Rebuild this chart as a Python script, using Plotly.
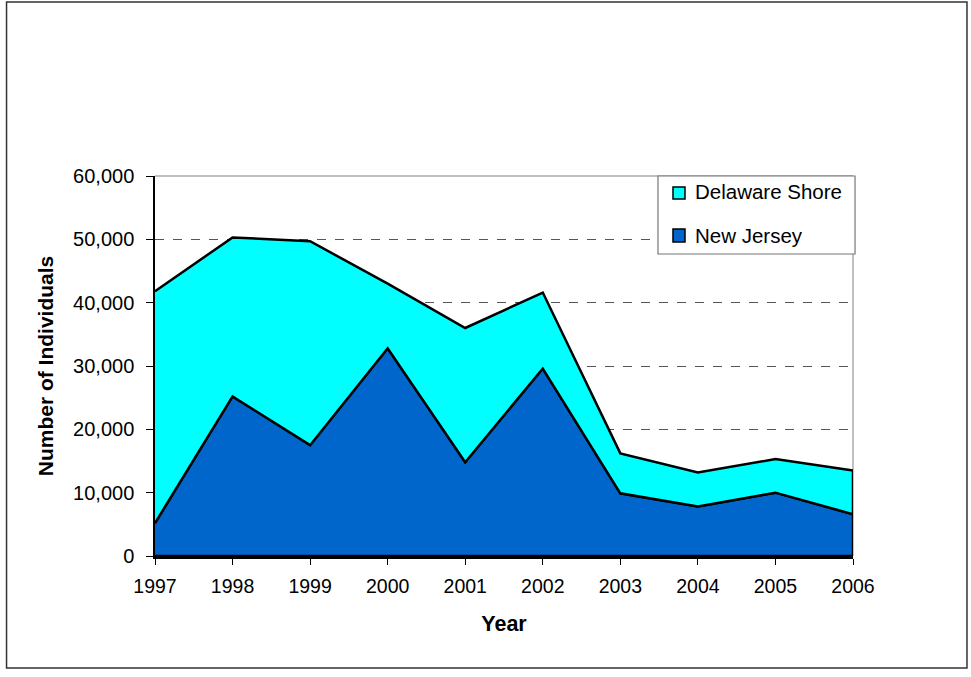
import plotly.graph_objects as go

years = [1997, 1998, 1999, 2000, 2001, 2002, 2003, 2004, 2005, 2006]
new_jersey = [5200, 25200, 17500, 32800, 14800, 29600, 9900, 7800, 10000, 6600]
delaware = [36600, 25100, 32200, 10200, 21200, 12000, 6300, 5400, 5300, 6900]
series_names = ["Delaware Shore", "New Jersey Shore"]
y_ticks = [0, 10000, 20000, 30000, 40000, 50000, 60000]

total = [a + b for a, b in zip(new_jersey, delaware)]

NJ_COLOR = "#0066CC"
DE_COLOR = "#00FFFF"
FONT = "Arial, Liberation Sans, sans-serif"

fig = go.Figure()

# New Jersey Shore: closed polygon down to zero
fig.add_trace(go.Scatter(
    x=years + [years[-1], years[0]],
    y=new_jersey + [0, 0],
    mode="lines", fill="toself", fillcolor=NJ_COLOR,
    line=dict(color="black", width=2.5),
    name=series_names[1], showlegend=False, hoverinfo="skip",
))
# Delaware Shore: stacked band between NJ and total
fig.add_trace(go.Scatter(
    x=years + years[::-1],
    y=total + new_jersey[::-1],
    mode="lines", fill="toself", fillcolor=DE_COLOR,
    line=dict(color="black", width=2.5),
    name=series_names[0], showlegend=False, hoverinfo="skip",
))

shapes = []
# plot area top and right border (light gray)
shapes.append(dict(type="line", xref="paper", yref="paper", x0=0, x1=1, y0=1, y1=1,
                   line=dict(color="#C0C0C0", width=2), layer="between"))
shapes.append(dict(type="line", xref="paper", yref="paper", x0=1, x1=1, y0=0, y1=1,
                   line=dict(color="#C0C0C0", width=2), layer="below"))
# outer chart border
shapes.append(dict(type="rect", xref="paper", yref="paper",
                   x0=-0.2127, x1=1.1633, y0=-0.2947, y1=1.4579,
                   line=dict(color="#333333", width=1.5), fillcolor="rgba(0,0,0,0)", layer="above"))
# manual legend box
shapes.append(dict(type="rect", xref="paper", yref="paper",
                   x0=0.7206, x1=1.0029, y0=0.7947, y1=1.0,
                   line=dict(color="#777777", width=1.2), fillcolor="white", layer="above"))
shapes.append(dict(type="rect", xref="paper", yref="paper",
                   x0=0.7421, x1=0.7593, y0=0.9395, y1=0.9711,
                   line=dict(color="black", width=1.5), fillcolor=DE_COLOR, layer="above"))
shapes.append(dict(type="rect", xref="paper", yref="paper",
                   x0=0.7421, x1=0.7593, y0=0.8263, y1=0.8605,
                   line=dict(color="black", width=1.5), fillcolor=NJ_COLOR, layer="above"))

annotations = [
    dict(xref="paper", yref="paper", x=0.7708, y=0.9579, xanchor="left", yanchor="middle",
         text=series_names[0], showarrow=False, font=dict(family=FONT, size=20.5, color="black")),
    dict(xref="paper", yref="paper", x=0.7708, y=0.8447, xanchor="left", yanchor="middle",
         text="New Jersey", showarrow=False, font=dict(family=FONT, size=20.5, color="black")),
]

fig.update_layout(
    width=971, height=677,
    margin=dict(l=155, r=118, t=176, b=121),
    paper_bgcolor="white", plot_bgcolor="white",
    font=dict(family=FONT, size=18, color="black"),
    shapes=shapes, annotations=annotations,
    showlegend=False,
    xaxis=dict(
        range=[years[0], years[-1]], tickmode="array", tickvals=years,
        ticktext=[str(y) for y in years],
        showgrid=False, zeroline=False,
        showline=True, linecolor="black", linewidth=2.5,
        ticks="outside", ticklen=6, tickwidth=1, tickcolor="black",
        ticklabelstandoff=5,
        tickfont=dict(family=FONT, size=19.5),
        title=dict(text="<b>Year</b>", font=dict(family=FONT, size=21.5), standoff=20),
    ),
    yaxis=dict(
        range=[0, 60000], tickmode="array", tickvals=y_ticks,
        ticktext=[f"{v:,}" for v in y_ticks],
        showgrid=True, gridcolor="#555555", griddash="dash", gridwidth=1,
        zeroline=False,
        showline=True, linecolor="black", linewidth=1.5,
        ticks="outside", ticklen=7, tickwidth=1, tickcolor="black",
        ticklabelstandoff=8,
        tickfont=dict(family=FONT, size=20),
        title=dict(text="<b>Number of Individuals</b>", font=dict(family=FONT, size=21), standoff=14),
    ),
)

fig.write_html("out.html")
